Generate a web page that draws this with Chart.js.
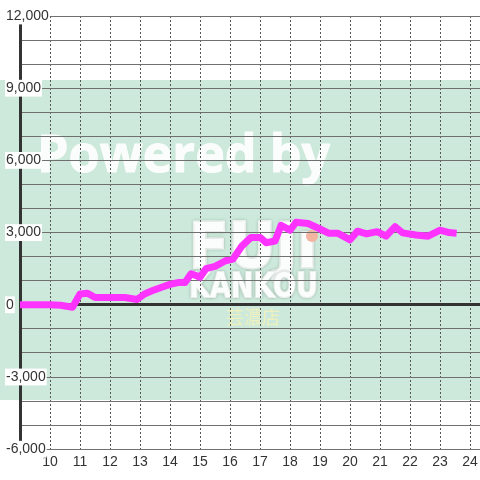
<!DOCTYPE html>
<html>
<head>
<meta charset="utf-8">
<script src="https://cdn.jsdelivr.net/npm/chart.js@4.4.1/dist/chart.umd.min.js"></script>
<style>
html,body{margin:0;padding:0;background:#fff;}
#wrap{width:480px;height:480px;position:relative;}
</style>
</head>
<body>
<div id="wrap"><canvas id="c" width="480" height="480"></canvas></div>
<script>
// Hours of day (x) and cumulative value (y)
const hours = [9.0, 10.0, 10.35, 10.75, 11.0, 11.25, 11.5, 12.0, 12.5, 12.9, 13.15, 13.4, 13.7, 14.0, 14.3, 14.5, 14.7, 15.0, 15.2, 15.5, 15.85, 16.1, 16.4, 16.7, 17.0, 17.2, 17.5, 17.7, 18.0, 18.2, 18.6, 19.0, 19.3, 19.6, 20.0, 20.25, 20.55, 20.9, 21.2, 21.5, 21.75, 22.2, 22.6, 23.0, 23.3, 23.55];
const values = [0, 0, -20, -100, 450, 480, 300, 300, 300, 220, 450, 580, 720, 850, 930, 930, 1290, 1150, 1500, 1600, 1830, 1900, 2450, 2800, 2800, 2580, 2650, 3300, 3100, 3430, 3380, 3150, 2970, 2970, 2700, 3060, 2950, 3040, 2850, 3250, 2990, 2900, 2850, 3100, 3000, 2970];
const xTicks = [10, 11, 12, 13, 14, 15, 16, 17, 18, 19, 20, 21, 22, 23, 24];
const yLabelTicks = [-6000, -3000, 0, 3000, 6000, 9000, 12000];

const points = hours.map((h, i) => ({x: h, y: values[i]}));

const watermark = {
  id: 'watermark',
  beforeDraw(chart) {
    const ctx = chart.ctx;
    ctx.save();
    ctx.fillStyle = '#ffffff';
    ctx.fillRect(0, 0, 480, 480);
    ctx.fillStyle = '#cce9db';
    ctx.fillRect(0, 80, 480, 320);
    ctx.textBaseline = 'alphabetic';
    ctx.textAlign = 'left';
    ctx.fillStyle = '#fbfdfc';
    ctx.strokeStyle = '#fbfdfc';
    ctx.lineJoin = 'round';
    ctx.font = 'bold 52px "Open Sans"';
    ctx.lineWidth = 1;
    ctx.fillText('Powered by', 37, 172, 293);
    ctx.strokeText('Powered by', 37, 172, 293);
    ctx.shadowColor = 'rgba(110,130,120,0.4)';
    ctx.shadowBlur = 3;
    ctx.font = 'bold 62px "DejaVu Sans"';
    ctx.lineWidth = 3;
    ctx.strokeText('FUJ\u0131', 189, 267, 128);
    ctx.fillText('FUJ\u0131', 189, 267, 128);
    ctx.font = 'bold 33px "DejaVu Sans"';
    ctx.lineWidth = 2;
    ctx.strokeText('KANKOU', 189, 297, 129);
    ctx.fillText('KANKOU', 189, 297, 129);
    ctx.shadowBlur = 0;
    ctx.shadowColor = 'rgba(0,0,0,0)';
    ctx.fillStyle = '#f4b4a2';
    ctx.beginPath();
    ctx.arc(312, 236, 6, 0, Math.PI * 2);
    ctx.fill();
    ctx.fillStyle = '#eef0bd';
    ctx.font = '18px "Noto Sans CJK JP"';
    ctx.fillText('芸濃店', 226, 324, 56);
    ctx.restore();
  }
};

new Chart(document.getElementById('c'), {
  type: 'line',
  data: {
    datasets: [{
      data: points,
      borderColor: '#ff33ff',
      borderWidth: 7,
      pointRadius: 0,
      tension: 0,
      fill: false,
      borderJoinStyle: 'round',
      borderCapStyle: 'butt'
    }]
  },
  options: {
    responsive: false,
    animation: false,
    events: [],
    layout: {padding: {top: 16, left: 6, right: 0, bottom: 4}},
    plugins: {legend: {display: false}, tooltip: {enabled: false}},
    scales: {
      x: {
        type: 'linear',
        min: 9,
        max: 24.33,
        afterBuildTicks: (scale) => {
          scale.ticks = [9].concat(xTicks).map(v => ({value: v}));
        },
        afterFit: (scale) => { scale.paddingLeft = 0; scale.paddingRight = 0; },
        ticks: {
          includeBounds: false,
          color: '#333',
          font: {family: '"Liberation Sans", Arial, sans-serif', size: 14},
          padding: 5,
          maxRotation: 0,
          autoSkip: false,
          callback: (v) => xTicks.includes(v) ? String(v) : ''
        },
        grid: {color: '#555', lineWidth: 1, drawTicks: false},
        border: {display: false, dash: [2, 2]}
      },
      y: {
        type: 'linear',
        min: -6000,
        max: 12000,
        afterFit: (scale) => { scale.width = 14; },
        ticks: {
          stepSize: 1000,
          includeBounds: false,
          mirror: true,
          padding: -14,
          crossAlign: 'near',
          color: '#333',
          font: {family: '"Liberation Sans", Arial, sans-serif', size: 14},
          showLabelBackdrop: true,
          backdropColor: (c) => yLabelTicks.includes(c.tick.value) ? '#ffffff' : 'rgba(0,0,0,0)',
          backdropPadding: {top: 0, bottom: 0, left: 1, right: 1},
          autoSkip: false,
          callback: (v) => yLabelTicks.includes(v) ? v.toLocaleString('en-US') : ''
        },
        grid: {
          drawTicks: false,
          color: (c) => c.tick.value === 0 ? '#333' : '#707070',
          lineWidth: (c) => c.tick.value === 0 ? 3 : 1
        },
        border: {display: true, color: '#333', width: 3}
      }
    }
  },
  plugins: [watermark]
});
</script>
</body>
</html>
